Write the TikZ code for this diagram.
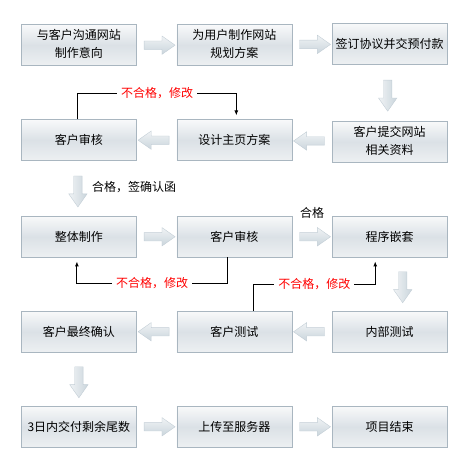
\documentclass[tikz,border=0pt]{standalone}
\usepackage{fontspec}
\newfontfamily\cjk{Noto Sans CJK SC}
\usetikzlibrary{matrix,shapes.arrows,calc,arrows.meta}

\definecolor{boxline}{HTML}{A9B6C0}
\definecolor{boxtop}{HTML}{F8F9FA}
\definecolor{boxmid}{HTML}{DBE1E6}
\definecolor{boxbot}{HTML}{EDF0F2}
\definecolor{arrowlight}{HTML}{F0F3F5}
\definecolor{arrowdark}{HTML}{CAD5DC}
\definecolor{arrowline}{HTML}{C3CED6}
\definecolor{nogored}{HTML}{FF0000}
\newcommand\twol[2]{\begin{tabular}{@{}c@{}}#1\\#2\end{tabular}}

\begin{document}
\begin{tikzpicture}[
  font=\cjk\fontsize{12}{18}\selectfont,
  box/.style={draw=boxline, top color=boxtop, bottom color=boxbot, middle color=boxmid,
    minimum width=115pt, minimum height=41pt, inner sep=2pt},
  fat/.style={single arrow, draw=arrowline, inner sep=0pt,
    text width=8pt, text height=8pt, text depth=0pt, minimum height=31pt,
    single arrow head extend=5pt, single arrow tip angle=70},
  fatright/.style={fat, top color=arrowlight, bottom color=arrowdark},
  fatleft/.style={fat, shape border rotate=180, top color=arrowlight, bottom color=arrowdark},
  fatdown/.style={fat, shape border rotate=270, left color=arrowlight, right color=arrowdark},
  back/.style={black, line width=1pt, shorten >=4pt, -{Latex[length=5pt,width=4pt]}},
  nogo/.style={fill=white, text=nogored, inner sep=4pt},
  ok/.style={inner sep=0pt}
]
\useasboundingbox (0,0) rectangle (464pt,-470pt);
\matrix (m) [matrix of nodes, nodes={box}, column sep=40pt, row sep=53.6pt,
  anchor=north west, inner sep=0pt] at (21pt,-22.7pt) {
\twol{与客户沟通网站}{制作意向} & \twol{为用户制作网站}{规划方案} & 签订协议并交预付款 \\
客户审核 & 设计主页方案 & \twol{客户提交网站}{相关资料} \\
整体制作 & 客户审核 & 程序嵌套 \\
客户最终确认 & 客户测试 & 内部测试 \\
3日内交付剩余尾数 & 上传至服务器 & 项目结束 \\
};

% fat arrows
\node[fatright] (r1a) at ($(m-1-1.east)!0.5!(m-1-2.west)$) {};
\node[fatright] (r1b) at ($(m-1-2.east)!0.5!(m-1-3.west)$) {};
\node[fatdown] (d13) at ($(m-1-3.south)!0.5!(m-2-3.north)+(-2pt,0)$) {};
\node[fatleft] (r2b) at ($(m-2-2.east)!0.5!(m-2-3.west)$) {};
\node[fatleft] (r2a) at ($(m-2-1.east)!0.5!(m-2-2.west)$) {};
\node[fatdown] (d21) at ($(m-2-1.south)!0.5!(m-3-1.north)+(-1pt,0)$) {};
\node[fatright] (r3a) at ($(m-3-1.east)!0.5!(m-3-2.west)$) {};
\node[fatright] (r3b) at ($(m-3-2.east)!0.5!(m-3-3.west)$) {};
\node[fatdown] (d33) at ($(m-3-3.south)!0.5!(m-4-3.north)+(13pt,0)$) {};
\node[fatleft] (r4b) at ($(m-4-2.east)!0.5!(m-4-3.west)$) {};
\node[fatleft] (r4a) at ($(m-4-1.east)!0.5!(m-4-2.west)$) {};
\node[fatdown] (d41) at ($(m-4-1.south)!0.5!(m-5-1.north)$) {};
\node[fatright] (r5a) at ($(m-5-1.east)!0.5!(m-5-2.west)$) {};
\node[fatright] (r5b) at ($(m-5-2.east)!0.5!(m-5-3.west)$) {};

% labels
\node[ok, anchor=west] (okmail) at ($(d21.center)+(14pt,1.3pt)$) {合格，签确认函};
\node[ok] (okcode) at ($(r3b.center)+(0,23.5pt)$) {合格};

% feedback loops
\draw[back] ([xshift=-1pt]m-2-1.north) -- ++(0,26pt) -| node[pos=0.25,nogo]{不合格，修改} ([xshift=2pt]m-2-2.north);
\draw[back] ([xshift=-7pt]m-3-2.south) -- ++(0,-26pt) -| node[pos=0.25,nogo]{不合格，修改} ([xshift=-2pt]m-3-1.south);
\draw[back] ([xshift=19pt]m-4-2.north) -- ++(0,27pt) -| node[pos=0.25,nogo]{不合格，修改} ([xshift=-14.5pt]m-3-3.south);
\end{tikzpicture}
\end{document}
